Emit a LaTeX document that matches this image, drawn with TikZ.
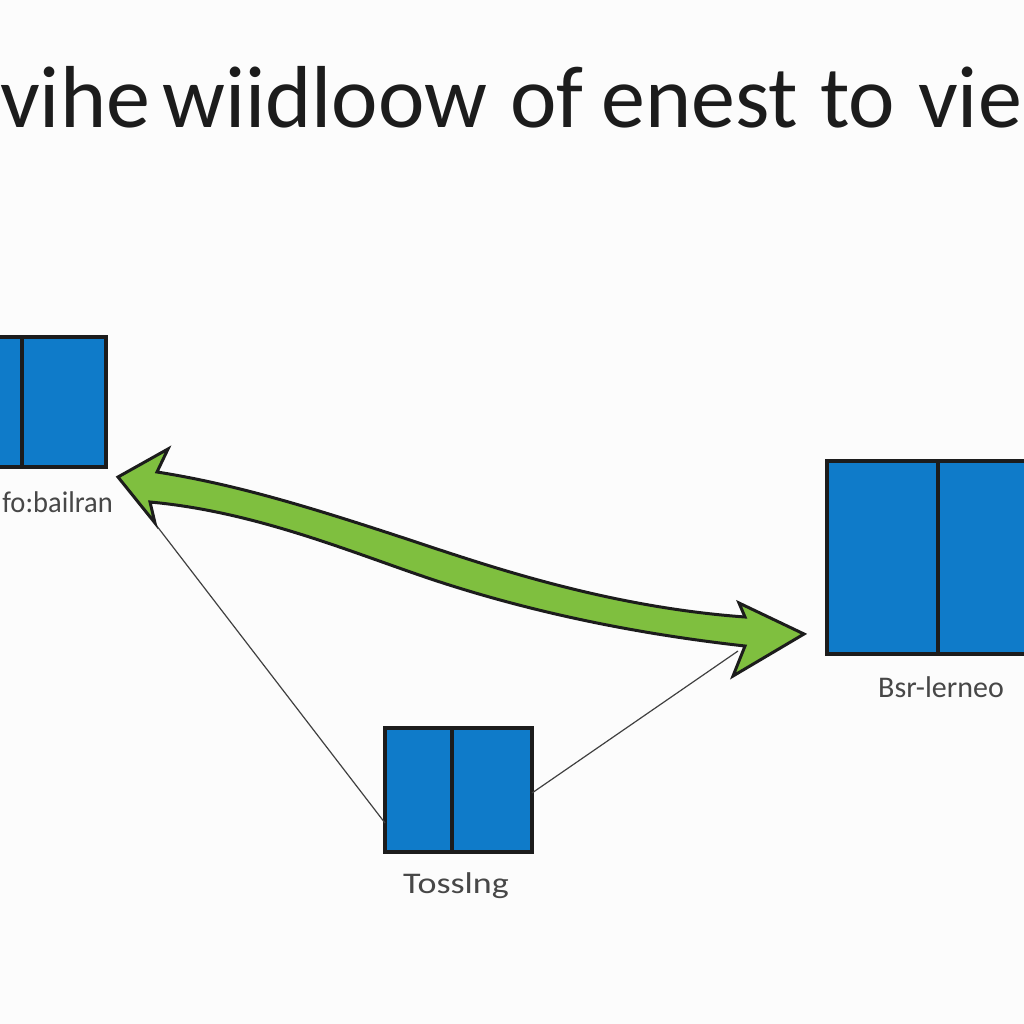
\documentclass[tikz,border=0pt]{standalone}
\usepackage{fontspec}
\setmainfont{Carlito}
\usetikzlibrary{positioning}
\definecolor{panelblue}{HTML}{0F7BC9}
\definecolor{arrowgreen}{HTML}{7FBF3F}
\definecolor{inkdark}{HTML}{1C1C1C}
\tikzset{
  panel/.style={draw=inkdark, fill=panelblue, line width=3.5pt, rectangle, inner sep=0pt, outer sep=0pt, anchor=north west},
  caption/.style={text=black!72, font=\fontsize{30}{30}\selectfont, inner sep=0pt},
  headline/.style={text=inkdark, font=\fontsize{88}{88}\selectfont, inner sep=0pt, anchor=base west},
  thinlink/.style={draw=black!75, line width=1.2pt}
}
\begin{document}
\begin{tikzpicture}[x=1pt,y=-1pt]
  \useasboundingbox (0,0) rectangle (1024,1024);
  \fill[white!99!black] (0,0) rectangle (1024,1024);
  % title
  \node [headline] (title1) at (0,128) {vihe};
  \node [headline] (title2) at (162,128) {wiidloow};
  \node [headline] (title3) at (510,128) {of};
  \node [headline] (title4) at (601,128) {enest};
  \node [headline] (title5) at (820,128) {to};
  \node [headline] (title6) at (918,128) {vie};
  % panels
  \node [panel, minimum width=82pt, minimum height=130pt] (leftA) at (-60,337) {};
  \node [panel, minimum width=84pt, minimum height=130pt, right=0pt of leftA.north east, anchor=north west] (leftB) {};
  \node [panel, minimum width=111pt, minimum height=193pt] (rightA) at (827,461) {};
  \node [panel, minimum width=111pt, minimum height=193pt, right=0pt of rightA.north east, anchor=north west] (rightB) {};
  \node [panel, minimum width=67pt, minimum height=124pt] (lowA) at (385,728) {};
  \node [panel, minimum width=80pt, minimum height=124pt, right=0pt of lowA.north east, anchor=north west] (lowB) {};
  % captions
  \node [caption, anchor=east, xscale=0.95] (leftcap) at (113,502) {fo:bailran};
  \node [caption] (rightcap) at (941,687) {Bsr-lerneo};
  \node [caption, xscale=1.2] (lowcap) at (456,886) {Tosslng};
  % arrow ends
  \coordinate (lefttail) at (153,521);
  \coordinate (righttail) at (738,651);
  \coordinate (lowin) at (385,823);
  \coordinate (lowout) at (532,793);
  \draw [thinlink] (lefttail) -- (lowin);
  \draw [thinlink] (lowout) -- (righttail);
  % green arrow
  \draw [fill=arrowgreen, draw=inkdark, line width=3pt, line join=miter]
    (118,477) -- (168,449) -- (157,472)
    .. controls (240,485) and (320,510) .. (440,550)
    .. controls (510,573) and (620,608) .. (745,617)
    -- (739,603) -- (804,634) -- (733,676) -- (745,646)
    .. controls (620,632) and (520,608) .. (440,582)
    .. controls (360,556) and (260,512) .. (150,502)
    -- (155,523) -- cycle;
\end{tikzpicture}
\end{document}
